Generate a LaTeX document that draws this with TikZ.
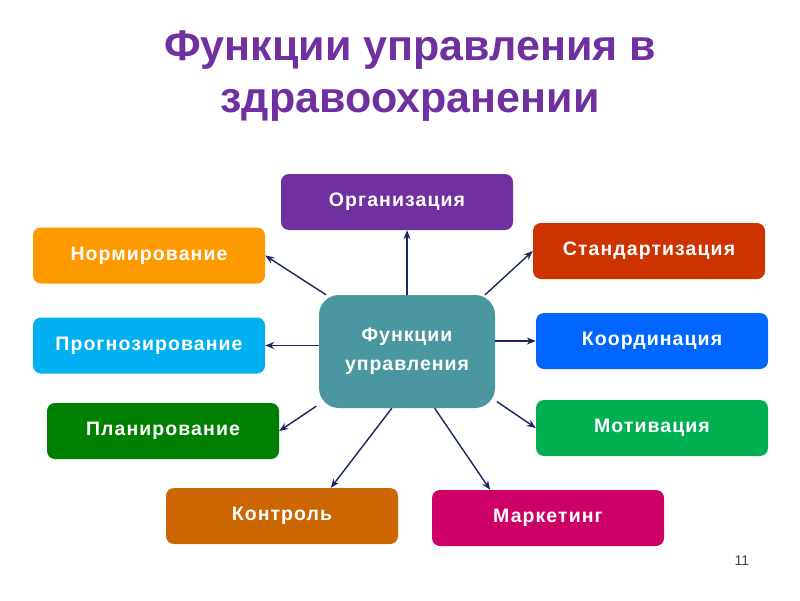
\documentclass[tikz,border=0pt]{standalone}
\usepackage{fontspec}
\setmainfont{Liberation Sans}
\usepackage{tikz}
\usetikzlibrary{positioning,calc}
\usetikzlibrary{shapes.geometric, arrows.meta}
\definecolor{ttl}{HTML}{7030A0}
\definecolor{corg}{HTML}{7030A0}
\definecolor{cnorm}{HTML}{FF9900}
\definecolor{cstand}{HTML}{CC3300}
\definecolor{cprog}{HTML}{00B0F0}
\definecolor{ccoord}{HTML}{0066FF}
\definecolor{cplan}{HTML}{008000}
\definecolor{cmotiv}{HTML}{00B050}
\definecolor{ckontr}{HTML}{CC6600}
\definecolor{cmark}{HTML}{CC0066}
\definecolor{chub}{HTML}{4A979F}
\definecolor{carr}{HTML}{1A2660}
\tikzset{
  fb/.style={rectangle, rounded corners=8pt, minimum width=232pt, minimum height=56pt, text centered, text=white, inner sep=0pt, font=\bfseries\fontsize{19.5}{20}\selectfont\addfontfeature{LetterSpace=5.5}},
  hub/.style={rectangle, rounded corners=20pt, minimum width=176pt, minimum height=113pt, text centered, text=white, fill=chub, align=center, font=\bfseries\fontsize{19.5}{29}\selectfont\addfontfeature{LetterSpace=5}},
  ar/.style={-{Stealth[length=9pt,width=7pt]}, draw=carr, line width=1.4pt},
  x=1pt, y=-1pt
}
\begin{document}
\begin{tikzpicture}
	\useasboundingbox[fill=white] (0,0) rectangle (800,600);
	\node[text=ttl, align=center, font=\bfseries\fontsize{43}{52}\selectfont] (title) at (410,76) {Функции управления в\\здравоохранении};
	\node[hub] (ctr) at (407,351.5) {Функции\\управления};
	\node[fb, fill=corg] (org) at (397,202) {Организация};
	\node[fb, fill=cnorm] (norm) at (149,255.5) {Нормирование};
	\node[fb, fill=cstand] (stand) at (649,251) {Стандартизация};
	\node[fb, fill=cprog] (prog) at (149,345.5) {Прогнозирование};
	\node[fb, fill=ccoord] (coord) at (652,341) {Координация};
	\node[fb, fill=cplan] (plan) at (163,431) {Планирование};
	\node[fb, fill=cmotiv] (motiv) at (652,428) {Мотивация};
	\node[fb, fill=ckontr] (kontr) at (282,516) {Контроль};
	\node[fb, fill=cmark] (mark) at (548,518) {Маркетинг};
	\node[text=black!75, font=\fontsize{14}{16}\selectfont] (pg) at (742,561) {11};
	%
	\draw[ar] (ctr.north) -- (ctr.north |- org.south);
	\draw[ar] (ctr.145) -- (norm.east);
	\draw[ar] (ctr.36) -- (stand.west);
	\draw[ar] (ctr.west |- prog.east) -- (prog.east);
	\draw[ar] (ctr.east |- coord.west) -- (coord.west);
	\draw[ar, shorten <=3pt] (ctr.211) -- (plan.east);
	\draw[ar] (ctr.255) -- (kontr.30);
	\draw[ar] (ctr.296) -- (mark.154);
	\draw[ar, shorten <=2pt] (ctr.331) -- (motiv.west);
\end{tikzpicture}
\end{document}
